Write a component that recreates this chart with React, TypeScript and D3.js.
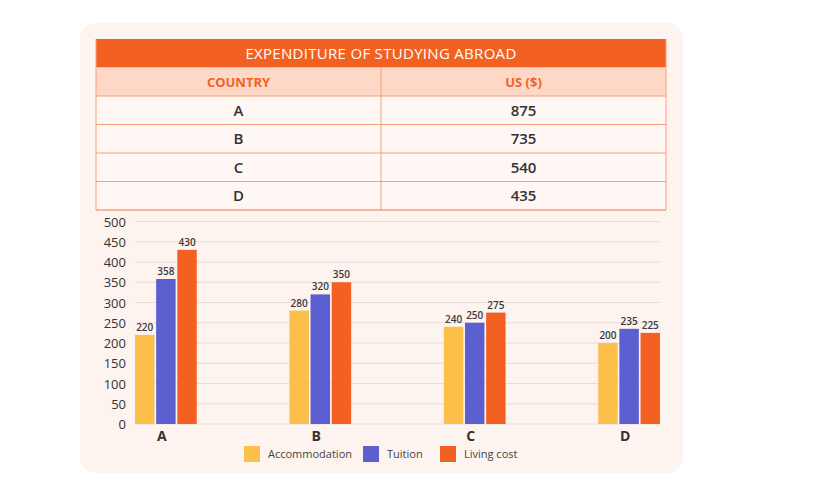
import React, { useEffect, useRef } from "react";
import * as d3 from "d3";

// table data
const tableTitle = "EXPENDITURE OF STUDYING ABROAD";
const tableHeader = ["COUNTRY", "US ($)"];
const tableCountries = ["A", "B", "C", "D"];
const tableTotals = [875, 735, 540, 435];

// bar chart data
const countries = ["A", "B", "C", "D"];
const seriesNames = ["Accommodation", "Tuition", "Living cost"];
const accommodation = [220, 280, 240, 200];
const tuition = [358, 320, 250, 235];
const livingCost = [430, 350, 275, 225];
const yTicks = [0, 50, 100, 150, 200, 250, 300, 350, 400, 450, 500];

const colors = ["#fbbf4a", "#5b5fcf", "#f26122"];
const font = "'Open Sans', sans-serif";

export default function App() {
  const ref = useRef<SVGSVGElement>(null);

  useEffect(() => {
    const svg = d3.select(ref.current);
    svg.selectAll("*").remove();

    // card background
    svg.append("rect")
      .attr("x", 80).attr("y", 23)
      .attr("width", 603).attr("height", 450)
      .attr("rx", 16)
      .attr("fill", "#fdf3ef");

    // ---- table ----
    const tx0 = 96, tx1 = 666, ty0 = 39, rowH = 28.5;
    const colX = d3.scaleBand<number>().domain([0, 1]).range([tx0, tx1]);
    const t = svg.append("g");

    t.append("rect")
      .attr("x", tx0).attr("y", ty0)
      .attr("width", tx1 - tx0).attr("height", rowH)
      .attr("fill", "#f26122");
    t.append("text")
      .attr("x", (tx0 + tx1) / 2).attr("y", ty0 + rowH / 2 + 5.5)
      .attr("text-anchor", "middle")
      .attr("fill", "#fff")
      .style("font-family", font).style("font-size", "15px").style("font-weight", 500)
      .style("letter-spacing", "0.3px")
      .text(tableTitle);

    t.append("rect")
      .attr("x", tx0).attr("y", ty0 + rowH)
      .attr("width", tx1 - tx0).attr("height", rowH)
      .attr("fill", "#fdd8c6");
    tableHeader.forEach((h, i) => {
      t.append("text")
        .attr("x", colX(i)! + colX.bandwidth() / 2).attr("y", ty0 + rowH * 1.5 + 5)
        .attr("text-anchor", "middle")
        .attr("fill", "#f26122")
        .style("font-family", font).style("font-size", "13px").style("font-weight", 700)
        .text(h);
    });

    tableCountries.forEach((c, r) => {
      const y = ty0 + rowH * (r + 2);
      t.append("rect")
        .attr("x", tx0).attr("y", y)
        .attr("width", tx1 - tx0).attr("height", rowH)
        .attr("fill", "#fff7f4");
      [c, String(tableTotals[r])].forEach((v, i) => {
        t.append("text")
          .attr("x", colX(i)! + colX.bandwidth() / 2).attr("y", y + rowH / 2 + 5.5)
          .attr("text-anchor", "middle")
          .attr("fill", "#333")
          .style("font-family", font).style("font-size", "15px").style("font-weight", 600)
          .text(v);
      });
    });

    // grid lines of the table
    for (let r = 2; r <= 6; r++) {
      t.append("line")
        .attr("x1", tx0).attr("x2", tx1)
        .attr("y1", ty0 + rowH * r).attr("y2", ty0 + rowH * r)
        .attr("stroke", "#f6a07b").attr("stroke-width", r === 6 ? 1.5 : 1);
    }
    t.append("line")
      .attr("x1", colX(1)).attr("x2", colX(1))
      .attr("y1", ty0 + rowH).attr("y2", ty0 + rowH * 6)
      .attr("stroke", "#f6a07b");
    [tx0, tx1].forEach(x => {
      t.append("line")
        .attr("x1", x).attr("x2", x)
        .attr("y1", ty0).attr("y2", ty0 + rowH * 6)
        .attr("stroke", "#f6a07b");
    });

    // ---- bar chart ----
    const left = 135, right = 660, top = 221.5, bottom = 424;
    const y = d3.scaleLinear().domain([0, 500]).range([bottom, top]);
    const x0 = d3.scaleBand().domain(countries).range([left, right]).paddingInner(0.6).paddingOuter(0);
    const x1 = d3.scaleBand().domain(seriesNames).range([0, x0.bandwidth()]).paddingInner(0.08);

    const g = svg.append("g");
    yTicks.forEach(v => {
      g.append("line")
        .attr("x1", left).attr("x2", right)
        .attr("y1", y(v)).attr("y2", y(v))
        .attr("stroke", "#e9dcd7").attr("stroke-width", 1);
      g.append("text")
        .attr("x", 126).attr("y", y(v) + 5)
        .attr("text-anchor", "end")
        .attr("fill", "#333")
        .style("font-family", font).style("font-size", "13px").style("font-weight", 500)
        .text(v);
    });

    const series = [accommodation, tuition, livingCost];
    countries.forEach((c, i) => {
      series.forEach((vals, s) => {
        const bx = x0(c)! + x1(seriesNames[s])!;
        g.append("rect")
          .attr("x", bx).attr("y", y(vals[i]))
          .attr("width", x1.bandwidth()).attr("height", bottom - y(vals[i]))
          .attr("fill", colors[s]);
        g.append("text")
          .attr("x", bx + x1.bandwidth() / 2).attr("y", y(vals[i]) - 4)
          .attr("text-anchor", "middle")
          .attr("fill", "#3a3a3a")
          .style("font-family", font).style("font-size", "10px").style("font-weight", 600)
          .text(vals[i]);
      });
      g.append("text")
        .attr("x", x0(c)! + x0.bandwidth() / 2 - 4).attr("y", 441)
        .attr("text-anchor", "middle")
        .attr("fill", "#333")
        .style("font-family", font).style("font-size", "14px").style("font-weight", 700)
        .text(c);
    });

    // legend
    const legendX = [244, 363, 440];
    seriesNames.forEach((name, s) => {
      g.append("rect")
        .attr("x", legendX[s]).attr("y", 446)
        .attr("width", 16).attr("height", 16)
        .attr("fill", colors[s]);
      g.append("text")
        .attr("x", legendX[s] + 24).attr("y", 458)
        .attr("fill", "#444")
        .style("font-family", font).style("font-size", "11px")
        .text(name);
    });
  }, []);

  return (
    <svg ref={ref} width={820} height={487}
      style={{ position: "absolute", left: 0, top: 0, background: "#fff" }} />
  );
}
